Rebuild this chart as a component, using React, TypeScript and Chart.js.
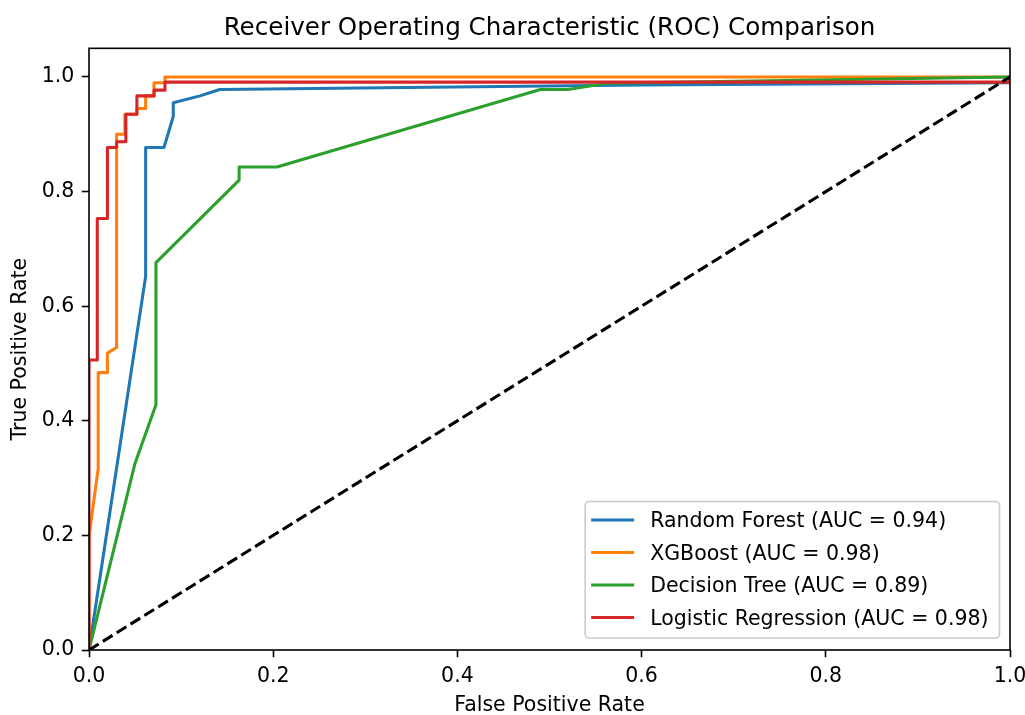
import React, { useEffect, useRef } from "react";
import { Chart, registerables } from "chart.js";

Chart.register(...registerables);

const FONT = "'DejaVu Sans', 'Liberation Sans', sans-serif";
const FS = 20.5;

const TITLE = "Receiver Operating Characteristic (ROC) Comparison";
const X_LABEL = "False Positive Rate";
const Y_LABEL = "True Positive Rate";
const X_TICKS = [0, 0.2, 0.4, 0.6, 0.8, 1.0];
const Y_TICKS = [0, 0.2, 0.4, 0.6, 0.8, 1.0];

const MODEL_NAMES = ["Random Forest", "XGBoost", "Decision Tree", "Logistic Regression"];
const MODEL_AUC = [0.94, 0.98, 0.89, 0.98];
const MODEL_COLORS = ["#1f77b4", "#ff7f0e", "#2ca02c", "#d62728"];

// Random Forest
const rfFpr = [0, 0.0615, 0.0615, 0.0814, 0.0915, 0.0915, 0.1205, 0.142, 0.6, 1.0, 1.0];
const rfTpr = [0, 0.652, 0.877, 0.877, 0.931, 0.955, 0.967, 0.978, 0.986, 0.99, 1.0];

// XGBoost
const xgbFpr = [0, 0, 0.01, 0.01, 0.02, 0.02, 0.03, 0.03, 0.039, 0.039, 0.052, 0.052, 0.0615, 0.0615, 0.0706, 0.0706, 0.0825, 0.0825, 1.0];
const xgbTpr = [0, 0.198, 0.317, 0.484, 0.484, 0.518, 0.528, 0.9, 0.9, 0.935, 0.935, 0.945, 0.945, 0.967, 0.967, 0.99, 0.99, 1.0, 1.0];

// Decision Tree
const dtFpr = [0, 0.05, 0.0727, 0.0727, 0.163, 0.163, 0.204, 0.49, 0.52, 0.562, 1.0];
const dtTpr = [0, 0.326, 0.428, 0.676, 0.82, 0.843, 0.843, 0.978, 0.978, 0.989, 1.0];

// Logistic Regression
const lrFpr = [0, 0, 0.009, 0.009, 0.02, 0.02, 0.03, 0.03, 0.04, 0.04, 0.052, 0.052, 0.0706, 0.0706, 0.0825, 0.0825, 1.0, 1.0];
const lrTpr = [0, 0.506, 0.506, 0.753, 0.753, 0.877, 0.877, 0.887, 0.887, 0.935, 0.935, 0.967, 0.967, 0.977, 0.977, 0.991, 0.991, 1.0];

// Chance line
const chanceFpr = [0, 1];
const chanceTpr = [0, 1];

const SERIES_FPR = [rfFpr, xgbFpr, dtFpr, lrFpr];
const SERIES_TPR = [rfTpr, xgbTpr, dtTpr, lrTpr];

const toPoints = (xs: number[], ys: number[]) => xs.map((x, i) => ({ x, y: ys[i] }));

const legendLabels = MODEL_NAMES.map((n, i) => `${n} (AUC = ${MODEL_AUC[i].toFixed(2)})`);

const framePlugin = {
  id: "mplFrameLegend",
  afterDraw(chart: any) {
    const { ctx, chartArea: ca } = chart;
    ctx.save();
    // axes spines
    ctx.strokeStyle = "#000";
    ctx.lineWidth = 1.6;
    ctx.strokeRect(ca.left, ca.top, ca.right - ca.left, ca.bottom - ca.top);

    // legend
    ctx.font = `${FS}px ${FONT}`;
    const widths = legendLabels.map((t) => ctx.measureText(t).width);
    const maxW = Math.max(...widths);
    const right = ca.right - 10.5;
    const bottom = ca.bottom - 12;
    const h = 136.5;
    const w = 65 + maxW + 11;
    const left = right - w;
    const top = bottom - h;
    ctx.beginPath();
    if ((ctx as any).roundRect) (ctx as any).roundRect(left, top, w, h, 4);
    else ctx.rect(left, top, w, h);
    ctx.fillStyle = "rgba(255,255,255,0.8)";
    ctx.fill();
    ctx.strokeStyle = "#cccccc";
    ctx.lineWidth = 1.6;
    ctx.stroke();

    const rowGap = 32.5;
    legendLabels.forEach((label, i) => {
      const cy = top + 18 + i * rowGap;
      ctx.beginPath();
      ctx.strokeStyle = MODEL_COLORS[i];
      ctx.lineWidth = 3.08;
      ctx.lineCap = "butt";
      ctx.moveTo(left + 6, cy + 0.5);
      ctx.lineTo(left + 49, cy + 0.5);
      ctx.stroke();
      ctx.fillStyle = "#000";
      ctx.textAlign = "left";
      ctx.textBaseline = "alphabetic";
      ctx.fillText(label, left + 65, cy + 7.5);
    });
    ctx.restore();
  },
};

export default function App() {
  const ref = useRef<HTMLCanvasElement | null>(null);

  useEffect(() => {
    if (!ref.current) return;
    const datasets: any[] = MODEL_NAMES.map((name, i) => ({
      label: legendLabels[i],
      data: toPoints(SERIES_FPR[i], SERIES_TPR[i]),
      borderColor: MODEL_COLORS[i],
      backgroundColor: MODEL_COLORS[i],
      borderWidth: 3.08,
      pointRadius: 0,
      pointHoverRadius: 0,
      tension: 0,
      fill: false,
      borderJoinStyle: "round",
      borderCapStyle: "square",
      order: 10 - i,
    }));
    datasets.push({
      label: "chance",
      data: toPoints(chanceFpr, chanceTpr),
      borderColor: "#000000",
      backgroundColor: "#000000",
      borderWidth: 3.08,
      borderDash: [11.4, 4.9],
      borderCapStyle: "butt",
      pointRadius: 0,
      tension: 0,
      fill: false,
      order: 1,
    });

    const chart = new Chart(ref.current, {
      type: "line",
      data: { datasets },
      plugins: [framePlugin],
      options: {
        responsive: false,
        animation: false,
        events: [],
        layout: { padding: { left: 0, right: 15, top: 0, bottom: 0 } },
        plugins: {
          legend: { display: false },
          tooltip: { enabled: false },
          title: {
            display: true,
            text: TITLE,
            fullSize: false,
            color: "#000",
            font: { family: FONT, size: 24.6, weight: "normal", lineHeight: 1.2 },
            padding: { top: 13.7, bottom: 5.1 },
          },
        },
        scales: {
          x: {
            type: "linear",
            min: 0,
            max: 1,
            afterBuildTicks: (scale: any) => {
              scale.ticks = X_TICKS.map((v) => ({ value: v }));
            },
            afterFit: (scale: any) => {
              scale.height = 65;
              scale.paddingLeft = 0;
              scale.paddingRight = 0;
            },
            grid: {
              display: true,
              drawOnChartArea: false,
              drawTicks: true,
              tickLength: 7.2,
              tickWidth: 1.6,
              tickColor: "#000",
            },
            border: { display: false },
            ticks: {
              color: "#000",
              font: { family: FONT, size: FS },
              padding: 7.5,
              maxRotation: 0,
              autoSkip: false,
              callback: (v: any) => Number(v).toFixed(1),
            },
            title: {
              display: true,
              text: X_LABEL,
              color: "#000",
              font: { family: FONT, size: FS, lineHeight: 1 },
              padding: { top: 0, bottom: -0.8 },
            },
          },
          y: {
            type: "linear",
            min: 0,
            max: 1.05,
            afterBuildTicks: (scale: any) => {
              scale.ticks = Y_TICKS.map((v) => ({ value: v }));
            },
            afterFit: (scale: any) => {
              scale.width = 89;
              scale.paddingTop = 0;
              scale.paddingBottom = 0;
            },
            grid: {
              display: true,
              drawOnChartArea: false,
              drawTicks: true,
              tickLength: 7.2,
              tickWidth: 1.6,
              tickColor: "#000",
            },
            border: { display: false },
            ticks: {
              color: "#000",
              font: { family: FONT, size: FS },
              padding: 7.5,
              autoSkip: false,
              callback: (v: any) => Number(v).toFixed(1),
            },
            title: {
              display: true,
              text: Y_LABEL,
              color: "#000",
              font: { family: FONT, size: FS, lineHeight: 1 },
              padding: { top: 10.6, bottom: 0 },
            },
          },
        },
      } as any,
    });
    return () => chart.destroy();
  }, []);

  return (
    <div style={{ position: "absolute", left: 0, top: 0, width: 1025, height: 715, background: "#fff" }}>
      <canvas ref={ref} width={1025} height={715} style={{ display: "block", width: 1025, height: 715 }} />
    </div>
  );
}
